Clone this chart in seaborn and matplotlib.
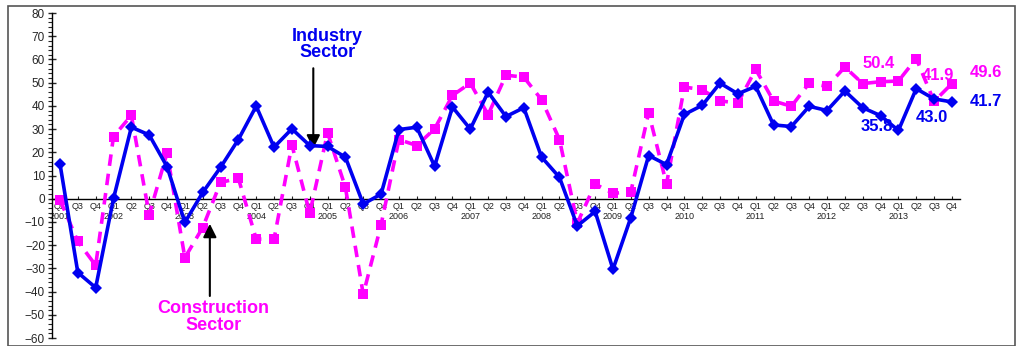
import matplotlib
matplotlib.use("Agg")
import matplotlib.pyplot as plt
from matplotlib.patches import Rectangle
from matplotlib.ticker import MultipleLocator
import seaborn as sns
import pandas as pd

# quarterly survey balances, 2001 Q2 - 2013 Q4
quarters = (["Q2", "Q3", "Q4"] + ["Q1", "Q2", "Q3", "Q4"] * 12)
years = [2001] * 3 + [y for y in range(2002, 2014) for _ in range(4)]

industry = [
    15.0, -31.8, -38.3,
    0.1, 30.8, 27.5, 13.8,
    -10.2, 2.7, 13.5, 25.5,
    39.9, 22.2, 30.1, 22.9,
    22.5, 17.9, -2.3, 2.0,
    29.8, 30.8, 14.0, 39.5,
    30.0, 45.9, 35.4, 39.2,
    17.9, 9.2, -11.7, -5.5,
    -30.4, -8.1, 18.6, 14.7,
    36.3, 40.2, 49.8, 45.2,
    48.4, 31.8, 31.1, 39.8,
    38.0, 46.4, 39.2, 35.8,
    29.4, 47.4, 43.0, 41.7,
]
construction = [
    -0.5, -18.4, -28.7,
    26.8, 35.9, -6.9, 19.7,
    -25.4, -12.4, 7.0, 8.8,
    -17.4, -17.4, 23.2, -6.3,
    28.4, 4.9, -41.2, -11.2,
    25.5, 22.9, 30.1, 44.5,
    49.8, 36.2, 53.2, 52.4,
    42.6, 25.5, -10.5, 6.3,
    2.3, 3.0, 37.0, 6.3,
    48.1, 47.0, 42.1, 41.3,
    55.7, 42.1, 39.8, 49.8,
    48.4, 56.7, 49.6, 50.4,
    50.7, 60.4, 41.9, 49.6,
]

df = pd.DataFrame({"idx": range(len(quarters)), "quarter": quarters,
                   "year": years, "industry": industry,
                   "construction": construction})

BLUE = "#0000F0"
PINK = "#FF00FF"

sns.set_style("white")
plt.rcParams["font.family"] = ["Liberation Sans", "DejaVu Sans"]

fig = plt.figure(figsize=(10.17, 3.46), dpi=100)
ax = fig.add_axes([0.0511, 0.0231, 0.8928, 0.9393])

sns.lineplot(data=df, x="idx", y="construction", ax=ax, color=PINK,
             linewidth=2.6, linestyle=(0, (3.2, 2.2)), marker="s",
             markersize=7, markeredgewidth=0, zorder=3)
sns.lineplot(data=df, x="idx", y="industry", ax=ax, color=BLUE,
             linewidth=2.6, marker="D", markersize=6,
             markeredgewidth=0, zorder=4)

ax.set_xlim(-0.45, 50.45)
ax.set_ylim(-60, 80)
ax.set_xlabel("")
ax.set_ylabel("")

# axes styling
for s in ["top", "right"]:
    ax.spines[s].set_visible(False)
ax.spines["left"].set_color("black")
ax.spines["left"].set_linewidth(1.0)
ax.spines["bottom"].set_position(("data", 0))
ax.spines["bottom"].set_color("black")
ax.spines["bottom"].set_linewidth(1.0)

ax.yaxis.set_major_locator(MultipleLocator(10))
ax.yaxis.set_minor_locator(MultipleLocator(2))
ax.tick_params(axis="y", which="major", direction="inout", length=6,
               width=1, labelsize=8.5, pad=2, left=True)
ax.tick_params(axis="y", which="minor", direction="out", length=3,
               width=0.8, left=True)

labels = []
for q, y in zip(df["quarter"], df["year"]):
    if q == "Q1" or (y == 2001 and q == "Q2"):
        labels.append(f"{q}\n{y}")
    else:
        labels.append(f"{q}\n ")
ax.set_xticks(df["idx"])
ax.set_xticklabels(labels, fontsize=6.5, linespacing=1.05, color="#222222")
ax.tick_params(axis="x", which="major", direction="in", length=2,
               width=0.8, pad=2.5, bottom=True)

# value labels
lab_style = dict(fontsize=12, fontweight="bold")
ax.text(45.0, 56.5, "50.4", color=PINK, **lab_style)
ax.text(48.3, 51.0, "41.9", color=PINK, **lab_style)
ax.text(51.0, 52.5, "49.6", color=PINK, **lab_style)
ax.text(44.9, 29.0, "35.8", color=BLUE, **lab_style)
ax.text(48.0, 33.0, "43.0", color=BLUE, **lab_style)
ax.text(51.0, 40.0, "41.7", color=BLUE, **lab_style)

# series annotations
ax.text(15.0, 66.5, "Industry\nSector", ha="center", va="center",
        color=BLUE, fontsize=13, fontweight="bold", linespacing=0.95)
ax.annotate("", xy=(14.2, 21.6), xytext=(14.2, 56.2),
            arrowprops=dict(arrowstyle="-|>", color="black", lw=1.5,
                            mutation_scale=20, shrinkA=0, shrinkB=0))
ax.text(8.6, -51.0, "Construction\nSector", ha="center", va="center",
        color=PINK, fontsize=13, fontweight="bold", linespacing=0.95)
ax.annotate("", xy=(8.4, -10.8), xytext=(8.4, -41.9),
            arrowprops=dict(arrowstyle="-|>", color="black", lw=1.5,
                            mutation_scale=20, shrinkA=0, shrinkB=0))

# outer frame
fig.patches.append(Rectangle((0.008, 0.0), 0.99, 0.982, transform=fig.transFigure,
                             fill=False, edgecolor="#555555", lw=1.2))

fig.savefig("out.png", dpi=100)
